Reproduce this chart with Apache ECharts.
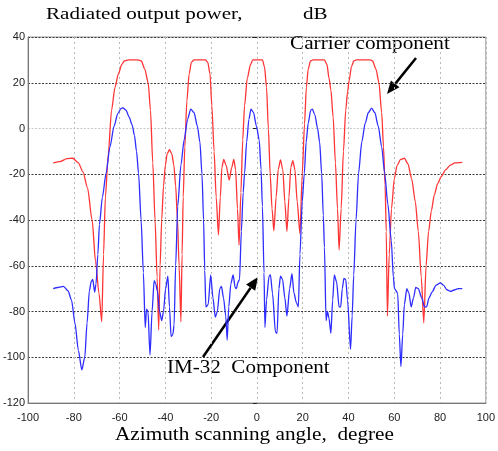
<!DOCTYPE html>
<html>
<head>
<meta charset="utf-8">
<script src="https://cdn.jsdelivr.net/npm/echarts@6/dist/echarts.min.js"></script>
<style>html,body{margin:0;padding:0;background:#fff}#c{width:498px;height:451px}</style>
</head>
<body>
<div id="c"></div>
<script>
// Carrier component (red)
var carrierAngles = [-89,-86,-83,-80.5,-78,-76,-74,-72,-70.5,-69,-67.8,-67,-66.2,-65,-63.5,-62,-60.5,-59,-58,-56,-52,-50.5,-49,-47.5,-46.5,-45.5,-44.5,-43.6,-42.9,-42.3,-41.6,-40.8,-40,-39.2,-38.2,-37.2,-36.3,-35.5,-34.7,-34,-33.2,-32.7,-32.2,-31.5,-30.6,-29.6,-28.6,-27.5,-22.5,-21.5,-20.5,-19.7,-18.7,-17.8,-16.8,-16,-15.3,-14.5,-13.5,-12.1,-11,-10.1,-9.3,-8.5,-7.8,-7,-6.2,-5.4,-4.2,-2.8,-1.8,2.4,3.3,4.2,5,5.8,6.6,7.4,8.4,9.3,10.3,11.3,12.2,13.1,14,14.8,15.7,16.6,17.6,18.8,19.8,20.8,21.6,22.4,23.4,24.5,29.5,30.6,31.5,32.3,33.3,34.3,35.2,35.9,36.8,37.8,38.8,39.6,40.3,41.3,42.3,43.5,49.5,50.5,52,53.3,54.5,55.3,56,56.5,57,57.8,58.8,60,61.3,62.8,64.4,66,67.6,69.2,70.5,71.8,72.9,73.9,75,76.2,77.5,79,80.5,82.5,84.5,86.5,89.7];
var carrierValues = [-15,-14.5,-13.2,-13,-15,-19,-26,-40,-58,-72,-84.5,-55,-30,-12,8,18,24,28,29.5,30,30,29.5,26,20,8,-15,-40,-65,-88,-60,-40,-25,-16,-11,-9.3,-11,-16,-25,-40,-60,-84.5,-55,-30,-8,12,24,29,30,30,29,24,10,-10,-30,-46.5,-30,-17,-13.5,-16,-22.5,-17,-13.5,-18,-35,-51,-28,-5,10,22,28,30,30,27,18,0,-20,-35,-44.7,-30,-18,-13.7,-18,-32,-45,-30,-17,-14,-18,-32,-46,-20,2,18,26,29.5,30,30,28,22,17,5,-15,-35,-53,-35,-10,8,16,21,27,29.5,30,30,29.5,26,20,7,-8,-25,-45,-82,-55,-35,-22,-16,-13.5,-13,-15.5,-22,-32,-45,-65,-85,-60,-45,-36,-29,-24,-21,-18,-16,-15,-14.8];
// IM-32 component (blue)
var imAngles = [-89,-87,-84.5,-82.5,-81,-79.5,-78,-76.5,-75.2,-74.2,-73.2,-72.4,-71.7,-70.9,-70.3,-69.5,-68.8,-67.5,-65.9,-64.2,-62.4,-60.8,-59.3,-58.5,-57.2,-55.8,-54.5,-53.5,-52.6,-51.7,-50.6,-49.6,-48.8,-48.2,-47.6,-46.7,-45.8,-44.9,-44.2,-43.5,-42.5,-41.6,-40.8,-39.9,-38.9,-38.2,-37.5,-36.7,-36.2,-35.5,-34.6,-33.2,-31.8,-30.3,-28.9,-27.5,-26,-24.9,-24,-23.3,-22.8,-22.3,-21.3,-20.2,-19.2,-18.2,-17.3,-16.2,-15.5,-14.6,-13.6,-13,-12.3,-11.4,-10.4,-9.5,-9,-8.2,-7.6,-6.8,-6,-5.4,-4.5,-3.5,-2.6,-1.5,-0.2,1,1.8,2.4,3.1,3.5,4.2,5.3,5.9,6.8,8.1,8.8,9.6,10.3,11.2,12.2,13.1,14.3,15.3,16.2,17.2,18.1,18.8,19.8,20.7,21.5,22.4,23.5,24.2,25.3,26.5,27.4,28.3,29,29.5,30.2,30.8,31.5,32.3,33.1,33.8,34.8,35.9,36.6,37.3,38,38.8,39.6,40.9,41.6,42.3,43.3,44.4,45.8,47.3,48.7,50.1,51.5,53,54.5,55.8,57.2,58.7,59.6,60.1,61.5,62.2,62.9,63.7,64.4,65.5,66.4,67.4,68.4,69.4,70.5,72,73.2,74.1,75.2,76.5,78.3,80.1,81.5,83,84.5,86.5,88,89.7];
var imValues = [-70,-69.5,-69,-71,-75,-85,-97,-105.5,-100,-85,-71,-67,-66,-71.5,-68,-55,-42,-30,-19.6,-8,1,6.5,8.8,9,8,5,1.5,-3,-10,-19.6,-40,-63,-87,-79,-80,-99,-80,-66.5,-68,-71,-80,-84,-80,-70,-64.5,-78,-91,-90,-86,-60,-34,-16,-5,4,8.5,7,1,-6,-20,-40,-62,-78,-77,-64,-74,-82.5,-80,-70,-69,-74,-82,-92.5,-78,-68,-64,-69.5,-70,-67,-66,-45,-28,-19.6,-6,4,8.5,7,1,-5,-18,-34,-63,-87,-75,-64.5,-64,-72,-89,-89.5,-70,-64.5,-66,-74,-82,-70,-63.5,-72,-76,-78,-55,-32,-19.6,-6,2.3,8,8.5,6,0,-6,-20,-38,-52,-84,-80,-83,-89.5,-75,-64,-67,-78,-78,-70,-65.5,-66,-75,-96.5,-82,-64,-40,-19.6,-6,2.3,7,8.9,7,1,-8,-19.6,-33,-49,-65,-70,-72,-90,-104,-90,-77,-70,-72,-78,-74,-69.5,-70,-74,-78,-78,-74,-71.5,-68.5,-67.5,-68.5,-70.5,-71.2,-70.5,-70,-70];
var xTicks = {min: -100, max: 100, step: 20};
var yTicks = {min: -120, max: 40, step: 20};

function zip(a, b) { return a.map(function (v, i) { return [v, b[i]]; }); }

var chart = echarts.init(document.getElementById('c'), null, {renderer: 'canvas'});
var serif = '"Liberation Serif","Times New Roman",serif';
var tickFont = '"Liberation Sans Narrow","Liberation Sans",Arial,sans-serif';

function arrow(x1, y1, x2, y2, headLen, headW) {
  var dx = x2 - x1, dy = y2 - y1, L = Math.sqrt(dx * dx + dy * dy);
  var ux = dx / L, uy = dy / L;
  var bx = x2 - ux * headLen, by = y2 - uy * headLen;
  var px = -uy * headW / 2, py = ux * headW / 2;
  return [
    {type: 'line', shape: {x1: x1, y1: y1, x2: bx, y2: by}, style: {stroke: '#000', lineWidth: 2.5}},
    {type: 'polygon', shape: {points: [[x2, y2], [bx + px, by + py], [bx - px, by - py]]}, style: {fill: '#000'}}
  ];
}
function label(txt, x, baseline, size, sx) {
  return {type: 'text', x: x, y: baseline, scaleX: sx, scaleY: 1,
    style: {text: txt, x: 0, y: 0, font: size + 'px ' + serif, fill: '#000', textBaseline: 'alphabetic', verticalAlign: 'bottom', align: 'left'}};
}

var hColors = [];
for (var v = yTicks.min; v <= yTicks.max; v += yTicks.step) hColors.push(v === 0 ? '#c8c8c8' : '#3a3a3a');

var option = {
  animation: false,
  backgroundColor: '#fff',
  grid: {left: 22, right: 8, top: 37, bottom: 48, show: true, borderColor: '#9a9a9a', borderWidth: 1},
  xAxis: {
    type: 'value', min: xTicks.min, max: xTicks.max, interval: xTicks.step,
    axisLine: {show: true, onZero: false, lineStyle: {color: '#777', width: 1}},
    axisTick: {show: false},
    axisLabel: {color: '#222', fontFamily: tickFont, fontSize: 11, margin: 9},
    splitLine: {show: true, lineStyle: {color: '#b8b8b8', type: [2, 3], width: 1}}
  },
  yAxis: [{
    type: 'value', min: yTicks.min, max: yTicks.max, interval: yTicks.step,
    axisLine: {show: true, onZero: false, lineStyle: {color: '#777', width: 1}},
    axisTick: {show: false},
    axisLabel: {color: '#222', fontFamily: tickFont, fontSize: 11, margin: 3},
    splitLine: {show: true, lineStyle: {color: hColors, type: [2, 1.5], width: 1}}
  }, {
    type: 'value', min: yTicks.min, max: yTicks.max, interval: yTicks.step, position: 'right',
    axisLine: {show: false},
    axisTick: {show: true, inside: true, length: 4, lineStyle: {color: '#222'}},
    axisLabel: {show: false},
    splitLine: {show: false}
  }],
  series: [{
    type: 'line', name: 'Carrier component', data: zip(carrierAngles, carrierValues),
    showSymbol: false, smooth: 0.25, smoothMonotone: 'x',
    lineStyle: {color: '#ff3535', width: 1.3}, z: 3
  }, {
    type: 'line', name: 'IM-32 Component', data: zip(imAngles, imValues),
    showSymbol: false, smooth: 0.25, smoothMonotone: 'x',
    lineStyle: {color: '#2d2dff', width: 1.3}, z: 4
  }],
  graphic: [
    label('Radiated output power,', 46, 23, 17, 1.24),
    label('dB', 303, 23, 17, 1.24),
    label('Carrier component', 290, 53, 18, 1.18),
    label('IM-32  Component', 167, 377, 18, 1.17),
    label('Azimuth scanning angle,  degree', 115, 444, 18, 1.18)
  ].concat(arrow(416, 58, 387, 94, 13, 11)).concat(arrow(203, 357, 258, 277, 13, 11))
};
chart.setOption(option);
</script>
</body>
</html>
